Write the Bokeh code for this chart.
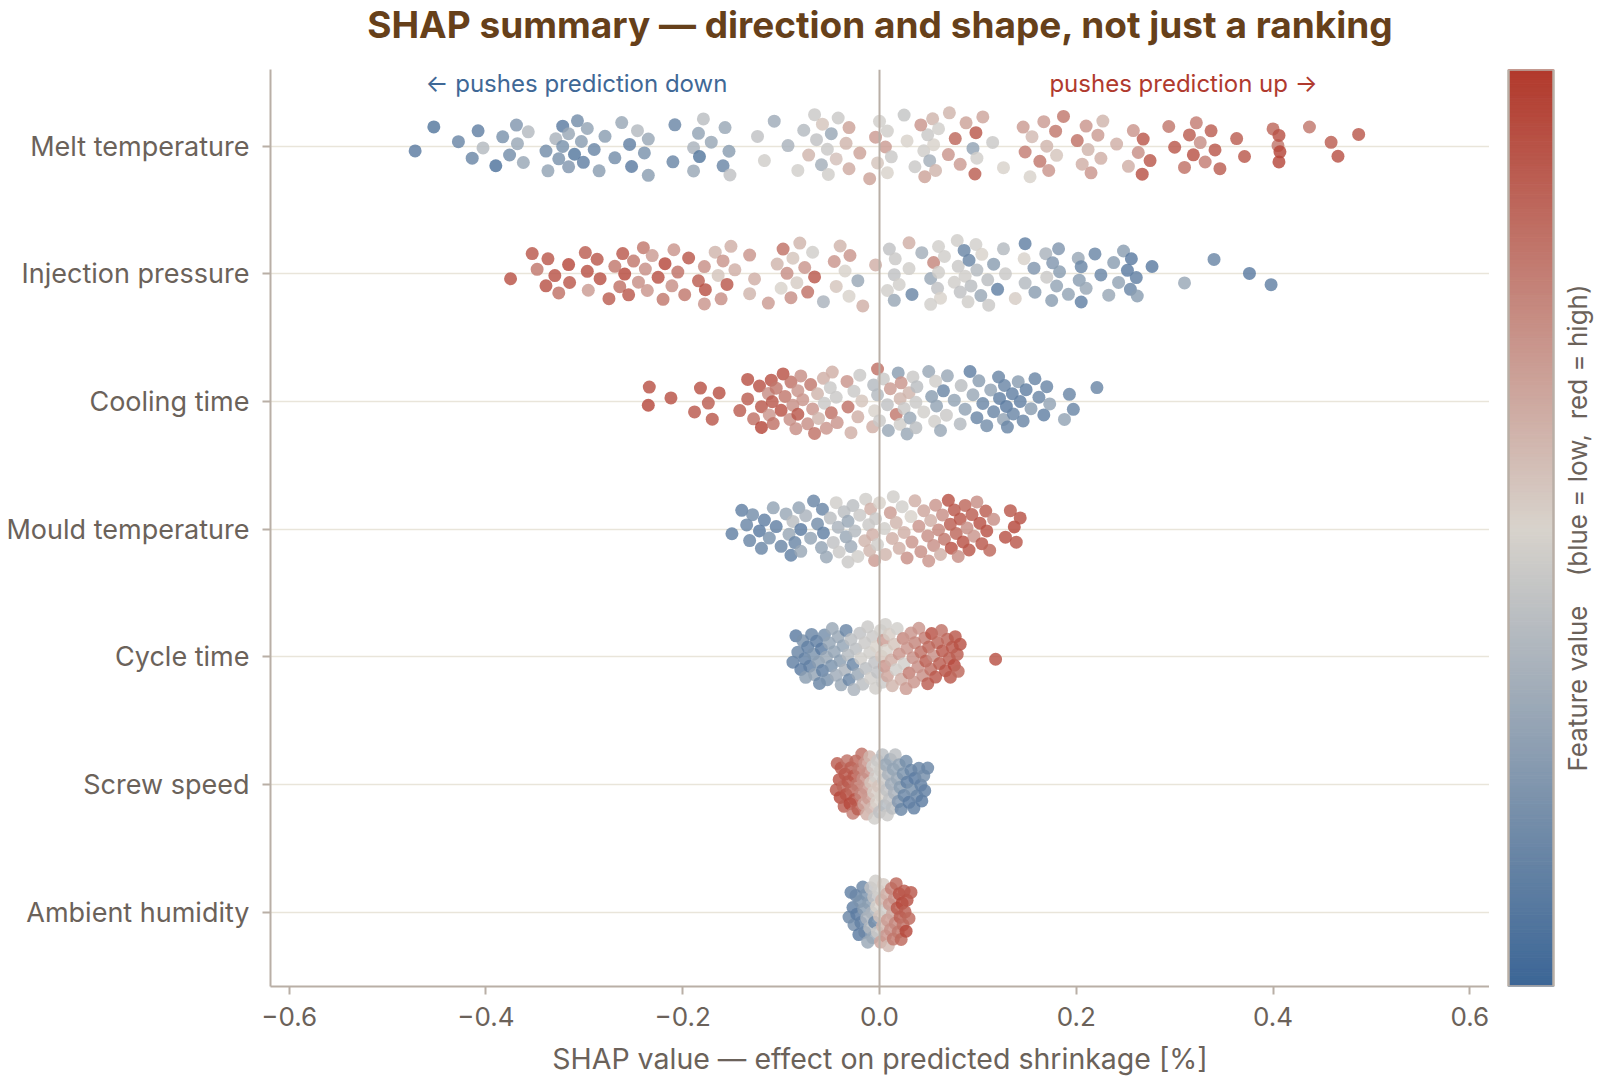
import numpy as np
from bokeh.plotting import figure
from bokeh.layouts import row, column
from bokeh.models import (ColumnDataSource, LinearColorMapper, FixedTicker,
                          CustomJSTickFormatter, Span, Label, Range1d)
from bokeh.transform import transform
from bokeh.embed import file_html
from bokeh.resources import INLINE

# ---------------- data (SHAP value, normalised feature value) ----------------
features = ["Melt temperature", "Injection pressure", "Cooling time", "Mould temperature",
            "Cycle time", "Screw speed", "Ambient humidity"]

melt_temperature = [
    (-0.472,0.10),(-0.453,0.08),(-0.428,0.15),(-0.414,0.15),(-0.408,0.12),(-0.403,0.38),(-0.390,0.06),
    (-0.383,0.20),(-0.376,0.18),(-0.369,0.22),(-0.368,0.30),(-0.362,0.30),(-0.357,0.38),(-0.339,0.18),
    (-0.337,0.28),(-0.329,0.35),(-0.326,0.20),(-0.322,0.10),(-0.322,0.20),(-0.316,0.22),(-0.316,0.30),
    (-0.310,0.08),(-0.307,0.18),(-0.303,0.25),(-0.301,0.12),(-0.297,0.28),(-0.290,0.15),(-0.285,0.25),
    (-0.279,0.25),(-0.269,0.18),(-0.262,0.30),(-0.254,0.12),(-0.252,0.10),(-0.246,0.38),(-0.239,0.20),
    (-0.235,0.25),(-0.235,0.30),(-0.210,0.15),(-0.208,0.15),(-0.189,0.35),(-0.189,0.30),(-0.184,0.28),
    (-0.183,0.08),(-0.179,0.40),(-0.171,0.30),(-0.159,0.15),(-0.157,0.30),(-0.152,0.42),(-0.153,0.25),
    (-0.124,0.42),(-0.117,0.47),(-0.107,0.32),(-0.093,0.35),(-0.083,0.48),(-0.077,0.38),(-0.072,0.60),
    (-0.066,0.45),(-0.064,0.42),(-0.059,0.33),(-0.058,0.55),(-0.053,0.45),(-0.052,0.47),(-0.049,0.30),
    (-0.044,0.56),(-0.042,0.45),(-0.034,0.60),(-0.031,0.63),(-0.031,0.66),(-0.020,0.66),(-0.010,0.66),
    (-0.004,0.68),(-0.002,0.55),
    (0.006,0.68),(0.000,0.48),(0.008,0.50),(0.008,0.47),(0.012,0.45),(0.025,0.43),(0.028,0.50),
    (0.036,0.45),(0.046,0.66),(0.054,0.60),(0.045,0.47),(0.051,0.33),(0.057,0.60),(0.055,0.50),
    (0.049,0.45),(0.042,0.70),(0.060,0.48),(0.071,0.60),(0.070,0.70),(0.077,0.85),(0.082,0.68),
    (0.088,0.66),(0.095,0.28),(0.098,0.90),(0.099,0.48),(0.097,0.88),(0.105,0.65),(0.115,0.45),
    (0.126,0.50),(0.146,0.68),(0.148,0.78),(0.153,0.50),(0.155,0.58),(0.163,0.80),(0.167,0.68),
    (0.170,0.60),(0.172,0.70),(0.179,0.80),(0.180,0.55),(0.187,0.80),(0.201,0.82),(0.210,0.70),
    (0.212,0.60),(0.206,0.62),(0.215,0.70),(0.222,0.68),(0.225,0.62),(0.227,0.60),(0.241,0.62),
    (0.253,0.62),(0.258,0.70),(0.263,0.72),(0.267,0.92),(0.268,0.90),(0.275,0.90),(0.294,0.80),
    (0.300,0.90),(0.310,0.82),(0.315,0.88),(0.319,0.92),(0.322,0.78),(0.326,0.72),(0.331,0.78),
    (0.337,0.88),(0.341,0.90),(0.346,0.88),(0.363,0.88),(0.371,0.90),(0.400,0.85),(0.406,0.95),
    (0.405,0.80),(0.406,0.92),(0.407,0.96),(0.437,0.80),(0.459,0.88),(0.466,0.92),(0.487,0.90)]

injection_pressure = [
    (-0.375,0.92),(-0.353,0.90),(-0.348,0.80),(-0.339,0.92),(-0.337,0.90),(-0.330,0.92),(-0.326,0.82),
    (-0.316,0.95),(-0.315,0.90),(-0.297,0.92),(-0.299,0.88),(-0.296,0.68),(-0.287,0.90),(-0.284,0.92),
    (-0.275,0.88),(-0.269,0.80),(-0.264,0.82),(-0.261,0.90),(-0.259,0.95),(-0.255,0.90),(-0.250,0.80),
    (-0.245,0.72),(-0.240,0.80),(-0.238,0.72),(-0.236,0.70),(-0.231,0.68),(-0.225,0.92),(-0.220,0.80),
    (-0.218,0.95),(-0.211,0.72),(-0.209,0.70),(-0.205,0.82),(-0.198,0.80),(-0.194,0.90),(-0.184,0.88),
    (-0.178,0.70),(-0.178,0.72),(-0.177,0.92),(-0.167,0.60),(-0.164,0.55),(-0.161,0.72),(-0.159,0.70),
    (-0.155,0.90),(-0.151,0.62),(-0.147,0.62),(-0.132,0.60),(-0.132,0.70),(-0.127,0.62),(-0.113,0.68),
    (-0.104,0.60),(-0.100,0.50),(-0.098,0.82),(-0.094,0.72),(-0.090,0.72),(-0.088,0.55),(-0.084,0.52),
    (-0.081,0.60),(-0.076,0.70),(-0.073,0.82),(-0.068,0.47),(-0.066,0.90),(-0.057,0.35),(-0.046,0.70),
    (-0.044,0.55),(-0.040,0.60),(-0.035,0.50),(-0.031,0.50),(-0.030,0.70),(-0.022,0.30),(-0.017,0.62),
    (-0.004,0.62),
    (0.010,0.42),(0.015,0.42),(0.020,0.48),(0.008,0.48),(0.015,0.30),(0.016,0.45),(0.030,0.62),
    (0.030,0.47),(0.033,0.15),(0.043,0.33),(0.052,0.30),(0.055,0.75),(0.060,0.48),(0.059,0.42),
    (0.060,0.47),(0.062,0.50),(0.052,0.48),(0.066,0.47),(0.076,0.47),(0.079,0.47),(0.080,0.45),
    (0.082,0.42),(0.086,0.15),(0.087,0.47),(0.091,0.15),(0.090,0.47),(0.093,0.40),(0.098,0.48),
    (0.099,0.38),(0.103,0.30),(0.104,0.50),(0.110,0.40),(0.111,0.45),(0.116,0.25),(0.120,0.12),
    (0.126,0.38),(0.128,0.45),(0.138,0.52),(0.147,0.50),(0.148,0.38),(0.148,0.12),(0.157,0.22),
    (0.158,0.25),(0.169,0.35),(0.170,0.45),(0.175,0.25),(0.176,0.22),(0.180,0.28),(0.182,0.22),
    (0.183,0.25),(0.192,0.28),(0.202,0.30),(0.203,0.25),(0.205,0.12),(0.205,0.15),(0.210,0.30),
    (0.219,0.15),(0.225,0.15),(0.233,0.30),(0.238,0.25),(0.243,0.28),(0.248,0.25),(0.252,0.10),
    (0.255,0.15),(0.256,0.10),(0.261,0.12),(0.262,0.25),(0.277,0.10),(0.310,0.30),(0.340,0.15),
    (0.376,0.10),(0.398,0.12)]

cooling_time = [
    (-0.235,0.95),(-0.234,0.92),(-0.212,0.92),(-0.188,0.90),(-0.182,0.92),(-0.174,0.88),(-0.170,0.90),
    (-0.163,0.92),(-0.142,0.88),(-0.134,0.92),(-0.134,0.88),(-0.128,0.82),(-0.122,0.92),(-0.120,0.90),
    (-0.120,0.95),(-0.113,0.72),(-0.112,0.70),(-0.110,0.92),(-0.109,0.90),(-0.108,0.82),(-0.105,0.80),
    (-0.100,0.92),(-0.098,0.92),(-0.096,0.80),(-0.091,0.72),(-0.090,0.82),(-0.088,0.72),(-0.085,0.72),
    (-0.083,0.70),(-0.083,0.90),(-0.080,0.72),(-0.078,0.70),(-0.073,0.72),(-0.070,0.80),(-0.068,0.70),
    (-0.066,0.82),(-0.063,0.60),(-0.062,0.60),(-0.057,0.62),(-0.056,0.45),(-0.054,0.70),(-0.049,0.82),
    (-0.048,0.62),(-0.050,0.45),(-0.044,0.45),(-0.043,0.70),(-0.033,0.70),(-0.032,0.82),(-0.029,0.62),
    (-0.026,0.45),(-0.022,0.62),(-0.020,0.45),(-0.018,0.55),(-0.007,0.62),(-0.006,0.38),(-0.005,0.50),
    (-0.002,0.82),(-0.002,0.38),(0.000,0.45),(0.004,0.45),(0.008,0.42),(0.009,0.30),(0.011,0.68),
    (0.017,0.80),(0.019,0.25),(0.021,0.60),(0.022,0.70),(0.021,0.47),(0.025,0.45),(0.028,0.30),
    (0.031,0.30),(0.030,0.60),(0.034,0.45),(0.037,0.45),(0.037,0.40),(0.038,0.40),(0.045,0.48),
    (0.050,0.30),(0.053,0.25),(0.056,0.48),(0.057,0.47),(0.058,0.28),(0.062,0.30),(0.065,0.15),
    (0.068,0.45),(0.069,0.30),(0.076,0.28),(0.082,0.38),(0.083,0.40),(0.087,0.28),(0.092,0.12),
    (0.095,0.30),(0.099,0.15),(0.101,0.25),(0.105,0.15),(0.109,0.18),(0.113,0.28),(0.116,0.15),
    (0.121,0.15),(0.122,0.12),(0.126,0.28),(0.127,0.15),(0.129,0.10),(0.130,0.15),(0.135,0.12),
    (0.136,0.15),(0.141,0.25),(0.143,0.12),(0.146,0.15),(0.149,0.12),(0.154,0.25),(0.158,0.15),
    (0.162,0.15),(0.167,0.12),(0.170,0.15),(0.173,0.28),(0.188,0.28),(0.193,0.15),(0.197,0.15),
    (0.221,0.15)]

mould_temperature = [
    (-0.150,0.12),(-0.140,0.12),(-0.135,0.15),(-0.132,0.15),(-0.129,0.18),(-0.122,0.10),(-0.120,0.15),
    (-0.117,0.12),(-0.112,0.20),(-0.108,0.28),(-0.105,0.12),(-0.100,0.15),(-0.095,0.30),(-0.092,0.30),
    (-0.090,0.12),(-0.088,0.40),(-0.086,0.15),(-0.082,0.28),(-0.080,0.10),(-0.080,0.30),(-0.075,0.35),
    (-0.070,0.28),(-0.067,0.15),(-0.063,0.18),(-0.059,0.28),(-0.058,0.15),(-0.057,0.12),(-0.054,0.30),
    (-0.050,0.40),(-0.047,0.42),(-0.044,0.47),(-0.042,0.35),(-0.041,0.45),(-0.036,0.40),(-0.034,0.30),
    (-0.032,0.45),(-0.032,0.30),(-0.029,0.32),(-0.027,0.40),(-0.025,0.38),(-0.022,0.47),(-0.020,0.45),
    (-0.015,0.60),(-0.014,0.47),(-0.011,0.45),(-0.009,0.62),(-0.007,0.62),(-0.005,0.68),(-0.010,0.60),
    (-0.004,0.45),(-0.002,0.47),(0.000,0.50),
    (0.005,0.47),(0.006,0.60),(0.011,0.68),(0.013,0.62),(0.014,0.47),(0.017,0.60),(0.020,0.62),
    (0.023,0.48),(0.025,0.62),(0.028,0.72),(0.032,0.50),(0.033,0.70),(0.036,0.62),(0.040,0.70),
    (0.042,0.72),(0.045,0.65),(0.049,0.72),(0.050,0.70),(0.052,0.62),(0.055,0.72),(0.057,0.70),
    (0.060,0.75),(0.062,0.62),(0.064,0.72),(0.066,0.80),(0.070,0.92),(0.072,0.88),(0.073,0.92),
    (0.076,0.90),(0.078,0.85),(0.080,0.72),(0.082,0.90),(0.085,0.92),(0.087,0.85),(0.089,0.72),
    (0.091,0.90),(0.094,0.88),(0.096,0.70),(0.099,0.72),(0.102,0.92),(0.104,0.90),(0.108,0.88),
    (0.109,0.92),(0.112,0.85),(0.116,0.72),(0.128,0.92),(0.133,0.90),(0.137,0.95),(0.139,0.90),
    (0.143,0.92)]

cycle_time = [
    (-0.088,0.12),(-0.085,0.10),(-0.083,0.15),(-0.080,0.10),(-0.078,0.20),(-0.076,0.12),(-0.075,0.25),
    (-0.073,0.12),(-0.071,0.12),(-0.069,0.15),(-0.067,0.20),(-0.066,0.28),(-0.064,0.12),(-0.062,0.25),
    (-0.061,0.15),(-0.059,0.10),(-0.058,0.12),(-0.056,0.18),(-0.054,0.30),(-0.053,0.20),(-0.051,0.28),
    (-0.049,0.20),(-0.048,0.30),(-0.046,0.28),(-0.044,0.32),(-0.042,0.30),(-0.040,0.25),(-0.039,0.30),
    (-0.037,0.28),(-0.035,0.35),(-0.034,0.15),(-0.032,0.38),(-0.031,0.15),(-0.029,0.40),(-0.027,0.15),
    (-0.026,0.35),(-0.024,0.40),(-0.022,0.30),(-0.020,0.42),(-0.019,0.47),(-0.017,0.40),(-0.015,0.45),
    (-0.014,0.40),(-0.012,0.45),(-0.010,0.47),(-0.009,0.47),(-0.007,0.45),(-0.005,0.42),(-0.004,0.47),
    (-0.003,0.50),(-0.002,0.42),(0.001,0.48),(0.002,0.55),(0.003,0.45),(0.004,0.68),(0.005,0.70),
    (0.006,0.47),(0.007,0.50),(0.008,0.65),(0.010,0.52),(0.012,0.62),(0.013,0.60),(0.015,0.55),
    (0.017,0.47),(0.018,0.48),(0.020,0.70),(0.022,0.62),(0.024,0.75),(0.025,0.48),(0.027,0.68),
    (0.028,0.70),(0.030,0.78),(0.032,0.70),(0.034,0.72),(0.035,0.70),(0.036,0.75),(0.039,0.72),
    (0.040,0.70),(0.042,0.82),(0.044,0.72),(0.046,0.78),(0.047,0.88),(0.049,0.88),(0.050,0.85),
    (0.052,0.82),(0.053,0.92),(0.055,0.72),(0.057,0.90),(0.059,0.85),(0.061,0.88),(0.063,0.82),
    (0.064,0.90),(0.067,0.92),(0.069,0.85),(0.071,0.88),(0.072,0.90),(0.074,0.90),(0.076,0.95),
    (0.077,0.90),(0.079,0.88),(0.080,0.85),(0.082,0.92),(0.118,0.92)]

screw_speed = [
    (-0.044,0.90),(-0.043,0.88),(-0.041,0.92),(-0.040,0.95),(-0.039,0.90),(-0.037,0.85),(-0.036,0.88),
    (-0.035,0.90),(-0.034,0.92),(-0.033,0.82),(-0.032,0.90),(-0.030,0.95),(-0.029,0.88),(-0.028,0.85),
    (-0.027,0.78),(-0.026,0.90),(-0.025,0.92),(-0.024,0.85),(-0.023,0.80),(-0.022,0.88),(-0.021,0.80),
    (-0.019,0.75),(-0.018,0.82),(-0.017,0.72),(-0.016,0.65),(-0.015,0.70),(-0.014,0.70),(-0.013,0.62),
    (-0.012,0.72),(-0.011,0.68),(-0.010,0.60),(-0.009,0.55),(-0.008,0.58),(-0.007,0.47),(-0.006,0.52),
    (-0.005,0.47),(-0.004,0.48),(-0.003,0.50),(-0.002,0.45),(-0.001,0.55),(0.000,0.42),(0.001,0.47),
    (0.002,0.50),(0.003,0.40),(0.004,0.45),(0.005,0.38),(0.006,0.30),(0.007,0.42),(0.008,0.45),
    (0.009,0.35),(0.010,0.42),(0.011,0.30),(0.012,0.32),(0.013,0.40),(0.014,0.28),(0.015,0.35),
    (0.016,0.40),(0.018,0.30),(0.019,0.22),(0.020,0.28),(0.021,0.25),(0.022,0.15),(0.024,0.20),
    (0.025,0.15),(0.027,0.18),(0.028,0.12),(0.030,0.10),(0.032,0.15),(0.033,0.20),(0.035,0.12),
    (0.036,0.10),(0.038,0.15),(0.040,0.15),(0.042,0.12),(0.043,0.10),(0.045,0.18),(0.046,0.12),
    (0.049,0.15)]

ambient_humidity = [
    (-0.031,0.15),(-0.029,0.12),(-0.027,0.12),(-0.026,0.18),(-0.024,0.15),(-0.023,0.10),(-0.021,0.10),
    (-0.020,0.20),(-0.019,0.12),(-0.017,0.15),(-0.016,0.25),(-0.015,0.15),(-0.014,0.20),(-0.013,0.35),
    (-0.012,0.30),(-0.011,0.25),(-0.010,0.38),(-0.009,0.42),(-0.008,0.35),(-0.007,0.30),(-0.006,0.42),
    (-0.005,0.15),(-0.004,0.47),(-0.003,0.50),(-0.002,0.45),(-0.001,0.48),(0.000,0.55),(0.001,0.65),
    (0.002,0.60),(0.003,0.60),(0.004,0.52),(0.005,0.47),(0.006,0.70),(0.007,0.62),(0.008,0.68),
    (0.009,0.58),(0.010,0.70),(0.011,0.72),(0.012,0.78),(0.013,0.65),(0.014,0.80),(0.015,0.72),
    (0.016,0.75),(0.017,0.85),(0.018,0.90),(0.019,0.80),(0.020,0.92),(0.021,0.88),(0.022,0.85),
    (0.023,0.95),(0.024,0.82),(0.025,0.90),(0.026,0.88),(0.027,0.95),(0.028,0.92),(0.030,0.85),
    (0.032,0.90)]

rows = [melt_temperature, injection_pressure, cooling_time, mould_temperature,
        cycle_time, screw_speed, ambient_humidity]

x_ticks = [-0.6, -0.4, -0.2, 0.0, 0.2, 0.4, 0.6]

title_text = "SHAP summary \u2014 direction and shape, not just a ranking"
colorbar_text = "Feature value\u00a0\u00a0\u00a0\u00a0(blue = low,\u00a0\u00a0red = high)"

# ---------------- styling ----------------
FONT = "Inter"
TXT = "#6b625a"
SPINE = "#b9afa6"
GRID = "#e9e5da"
BLUE = "#3f6896"
RED = "#b03a2e"

def lerp(c1, c2, t):
    return tuple(int(round(a + (b - a) * t)) for a, b in zip(c1, c2))

lo, mid, hi = (60, 102, 150), (216, 211, 204), (178, 58, 45)
palette = []
for i in range(256):
    t = i / 255
    c = lerp(lo, mid, t * 2) if t < 0.5 else lerp(mid, hi, (t - 0.5) * 2)
    palette.append("#%02x%02x%02x" % c)
mapper = LinearColorMapper(palette=palette, low=0, high=1)


def jitter(xs, amp=0.265):
    xs = np.asarray(xs, dtype=float)
    span = xs.max() - xs.min()
    bw = 0.15 * span
    d = np.exp(-0.5 * ((xs[:, None] - xs[None, :]) / bw) ** 2).sum(1)
    d = d / d.max()
    order = np.argsort(xs, kind="stable")
    offs = np.zeros(len(xs))
    for k, i in enumerate(order):
        u = 2 * ((k * 0.6180339887 + 0.37) % 1.0) - 1
        offs[i] = amp * (0.3 + 0.7 * d[i]) * u
    return offs


xs_all, ys_all, fv_all = [], [], []
n_rows = len(features)
for r, data in enumerate(rows):
    sv = [a for a, b in data]
    fv = [b for a, b in data]
    base = n_rows - 1 - r
    off = jitter(sv)
    xs_all += sv
    ys_all += list(base + off)
    fv_all += fv

src = ColumnDataSource(dict(x=xs_all, y=ys_all, f=fv_all))

TOP, BOTTOM = 69, 94
H = 1080 - TOP


def bare(fig):
    fig.outline_line_color = None
    fig.xgrid.visible = False
    fig.ygrid.visible = False
    fig.background_fill_color = "white"
    fig.border_fill_color = "white"


# ---------------- title strip ----------------
tf = figure(width=1600, height=TOP, output_backend="svg", toolbar_location=None,
            x_range=Range1d(0, 1600), y_range=Range1d(0, TOP),
            x_axis_location=None, y_axis_location=None, min_border=0)
bare(tf)
tf.add_layout(Label(x=880, y=TOP - 24, text=title_text, text_align="center", text_baseline="middle",
                    text_font=FONT, text_font_size="37px", text_font_style="bold", text_color="#66401a"))

# ---------------- main plot ----------------
p = figure(width=1489, height=H, output_backend="svg", toolbar_location=None,
           x_range=Range1d(-0.619, 0.62), y_range=Range1d(-0.582, 6.60),
           min_border_left=270, min_border_right=0, min_border_top=0, min_border_bottom=BOTTOM)
p.outline_line_color = None
p.background_fill_color = "white"
p.border_fill_color = "white"

p.xgrid.visible = False
p.ygrid.ticker = FixedTicker(ticks=list(range(n_rows)))
p.ygrid.grid_line_color = GRID
p.ygrid.grid_line_width = 1.5

p.xaxis.ticker = FixedTicker(ticks=x_ticks)
p.xaxis.formatter = CustomJSTickFormatter(code="return (tick < -1e-9 ? '\u2212' : '') + Math.abs(tick).toFixed(1);")
p.xaxis.axis_label = "SHAP value \u2014 effect on predicted shrinkage [%]"
p.yaxis.ticker = FixedTicker(ticks=list(range(n_rows)))
p.yaxis.major_label_overrides = {n_rows - 1 - i: name for i, name in enumerate(features)}
for ax in (p.xaxis[0], p.yaxis[0]):
    ax.axis_line_color = SPINE
    ax.axis_line_width = 2
    ax.major_tick_line_color = SPINE
    ax.major_tick_line_width = 2
    ax.major_tick_in = 0
    ax.major_tick_out = 8
    ax.minor_tick_line_color = None
    ax.major_label_text_font = FONT
    ax.major_label_text_color = TXT
    ax.axis_label_text_font = FONT
    ax.axis_label_text_color = TXT
    ax.axis_label_text_font_style = "normal"
p.xaxis.major_label_text_font_size = "26px"
p.yaxis.major_label_text_font_size = "27px"
p.xaxis.axis_label_text_font_size = "28.5px"
p.xaxis.major_label_standoff = 12
p.xaxis.axis_label_standoff = 12
p.yaxis.major_label_standoff = 13

p.add_layout(Span(location=0, dimension="height", line_color=SPINE, line_width=2))

p.scatter("x", "y", source=src, size=13, fill_color=transform("f", mapper),
          line_color=None, fill_alpha=0.82)

p.add_layout(Label(x=-0.308, y=6.49, text="\u2190 pushes prediction down", text_align="center",
                   text_baseline="middle", text_font=FONT, text_font_size="24px", text_color=BLUE))
p.add_layout(Label(x=0.309, y=6.49, text="pushes prediction up \u2192", text_align="center",
                   text_baseline="middle", text_font=FONT, text_font_size="24px", text_color=RED))

# ---------------- colour bar panel ----------------
cb = figure(width=111, height=H, output_backend="svg", toolbar_location=None,
            x_range=Range1d(0, 111), y_range=Range1d(0, 1),
            x_axis_location=None, y_axis_location=None,
            min_border_left=0, min_border_right=0, min_border_top=0, min_border_bottom=BOTTOM)
bare(cb)

levels = np.linspace(0, 1, 257)
cb_src = ColumnDataSource(dict(bottom=levels[:-1], top=levels[1:], v=(levels[:-1] + levels[1:]) / 2))
cb.quad(left=19, right=64, bottom="bottom", top="top", source=cb_src,
        fill_color=transform("v", mapper), line_color=transform("v", mapper), line_width=1)
cb.quad(left=19, right=64, bottom=0, top=1, fill_color=None, line_color=SPINE, line_width=2.5)
cb.add_layout(Label(x=88, y=0.5, angle=np.pi / 2, text=colorbar_text,
                    text_align="center", text_baseline="middle", text_font=FONT,
                    text_font_size="26px", text_color=TXT))

layout = column(tf, row(p, cb))
open("out.html", "w").write(file_html(layout, INLINE))
